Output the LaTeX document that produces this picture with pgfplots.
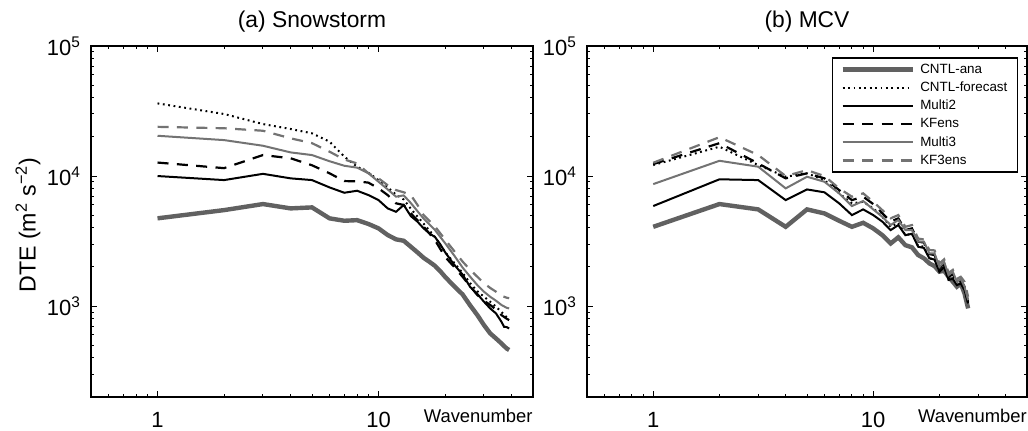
\documentclass[border=0pt]{standalone}
\usepackage{pgfplots}
\pgfplotsset{compat=1.18}
\usepackage{fontspec}
\setmainfont{Liberation Sans}
\definecolor{dgray}{gray}{0.38}
\definecolor{lgray}{gray}{0.45}

\pgfplotsset{
 mystyle/.style={
  scale only axis,
  xmin=0.5, xmax=50, ymin=200, ymax=100000,
  xtick={1,10}, xticklabels={1,10},
  minor xtick={0.5,0.6,0.7,0.8,0.9,2,3,4,5,6,7,8,9,20,30,40,50},
  ytick={1000,10000,100000},
  yticklabels={10\textsuperscript{3},10\textsuperscript{4},10\textsuperscript{5}},
  minor ytick={200,300,400,500,600,700,800,900,2000,3000,4000,5000,6000,7000,8000,9000,20000,30000,40000,50000,60000,70000,80000,90000},
  tick align=inside,
  major tick length=3pt, minor tick length=1.7pt,
  every tick/.style={black, line width=0.5pt},
  axis line style={line width=0.7pt},
  ticklabel style={font=\fontsize{11}{13}\selectfont},
  xticklabel style={anchor=base, yshift=-15pt},
  yticklabel style={xshift=-1.5pt},
  title style={font=\fontsize{11.4}{13}\selectfont, at={(0.5,1)}, anchor=base, yshift=3pt},
  xlabel={Wavenumber},
  xlabel style={font=\fontsize{9.2}{11}\selectfont, at={(axis description cs:0.876,0)}, anchor=base, yshift=-12.5pt},
  legend image code/.code={\draw[##1] (0pt,0pt) -- (35pt,0pt);},
 },
 ana/.style={dgray, line width=2.2pt},
 fc/.style={black, line width=1pt, dash pattern=on 0.9pt off 1.8pt},
 m2/.style={black, line width=1pt},
 kf/.style={black, line width=1.1pt, dash pattern=on 5.5pt off 4.2pt},
 m3/.style={lgray, line width=1pt},
 kf3/.style={lgray, line width=1.1pt, dash pattern=on 5.5pt off 4.2pt},
}

\begin{document}
\begin{tikzpicture}
\useasboundingbox (0,0) rectangle (514pt,215pt);
\begin{loglogaxis}[mystyle, at={(45.5pt,16.5pt)}, anchor=south west, width=221pt, height=175.5pt,
  title={(a) Snowstorm},
  ylabel={DTE (m\textsuperscript{2} s\textsuperscript{−2})},
  ylabel style={font=\fontsize{11.6}{13}\selectfont, at={(axis description cs:-0.1425,0.49)}, anchor=center}]
\addplot[ana] coordinates {(1,4730)(2,5470)(3,6090)(4,5640)(5,5740)(6,4730)(7,4530)(8,4580)(9,4280)(10,3960)(11,3520)(12,3260)(13,3180)(14,2860)(15,2590)(16,2350)(17,2190)(18,2040)(19,1860)(20,1680)(22,1420)(24,1230)(26,1010)(28,853)(30,714)(32,617)(34,564)(36,516)(38,472)(39,460)};
\addplot[fc] coordinates {(1,36200)(2,30000)(3,25100)(4,23000)(5,21300)(6,18400)(7,14100)(8,11800)(9,10600)(10,9300)(11,8200)(12,7200)(13,6600)(14,5600)(16,4300)(18,3400)(20,2600)(22,2150)(24,1800)(26,1500)(28,1300)(30,1180)(32,1080)(34,990)(36,900)(38,820)(39,800)};
\addplot[m2] coordinates {(1,10000)(2,9310)(3,10400)(4,9600)(5,9310)(6,8180)(7,7440)(8,7710)(9,7140)(10,6530)(11,5640)(12,5310)(13,5990)(14,4920)(15,4460)(16,3960)(17,3620)(18,3400)(19,3000)(20,2600)(22,2080)(24,1750)(26,1400)(28,1240)(30,1080)(32,960)(34,879)(36,757)(37,693)(38,690)(39,673)};
\addplot[kf] coordinates {(1,12700)(2,11500)(3,14500)(4,13700)(5,12100)(6,10500)(7,9150)(8,9100)(9,8900)(10,8040)(11,7140)(12,6170)(13,5990)(14,5170)(16,4080)(18,3220)(20,2390)(22,2000)(24,1680)(26,1420)(28,1215)(30,1100)(32,1020)(34,940)(36,853)(38,800)(39,780)};
\addplot[m3] coordinates {(1,20400)(2,18900)(3,17100)(4,15200)(5,14500)(6,13000)(7,12000)(8,11600)(9,10500)(10,9040)(11,7900)(12,6940)(13,7100)(14,6200)(16,4700)(18,3850)(20,3050)(22,2450)(24,1980)(26,1680)(28,1450)(30,1290)(32,1180)(34,1100)(36,1020)(38,970)(39,960)};
\addplot[kf3] coordinates {(1,23900)(2,23300)(3,22300)(4,19500)(5,17900)(6,15400)(7,13400)(8,12500)(9,10500)(10,9600)(11,8500)(12,7800)(13,7500)(14,7140)(15,6000)(16,5000)(18,4100)(20,3250)(22,2650)(24,2200)(26,1900)(28,1680)(30,1500)(32,1380)(34,1290)(36,1200)(38,1160)(39,1150)};
\end{loglogaxis}

\begin{loglogaxis}[mystyle, at={(293.5pt,16.5pt)}, anchor=south west, width=220pt, height=175.5pt,
  title={(b) MCV},
  legend style={at={(0.9805,0.9675)}, anchor=north east, font=\fontsize{6.7}{8}\selectfont,
    draw=black, line width=0.6pt, inner xsep=4pt, inner ysep=1.2pt, row sep=0pt,
    column sep=1.5pt,
    nodes={inner sep=1.2pt, text height=5.2pt, text depth=1.5pt}},
  legend cell align=left]
\addplot[ana] coordinates {(1,4070)(2,6090)(3,5540)(4,4070)(5,5540)(6,5160)(7,4530)(8,4070)(9,4370)(10,3960)(11,3510)(12,3030)(13,3380)(14,2940)(15,2830)(16,2470)(17,2330)(18,2130)(19,2030)(20,1840)(21,1870)(22,1680)(23,1540)(24,1410)(25,1490)(26,1250)(27,960)};
\addplot[fc] coordinates {(1,12150)(2,16800)(3,12150)(4,9880)(5,10500)(6,9310)(7,7360)(8,6170)(9,6340)(10,5650)(11,4860)(12,4070)(13,4370)(14,3510)(15,3600)(16,2900)(17,2870)(18,2330)(19,2290)(20,1840)(21,2000)(22,1600)(23,1680)(24,1490)(25,1540)(26,1370)(27,1050)};
\addplot[m2] coordinates {(1,5880)(2,9440)(3,9310)(4,6530)(5,7890)(6,7500)(7,6170)(8,5010)(9,5540)(10,5010)(11,4460)(12,3840)(13,4200)(14,3510)(15,3600)(16,2860)(17,2800)(18,2330)(19,2280)(20,1840)(21,2000)(22,1590)(23,1620)(24,1450)(25,1490)(26,1330)(27,1050)};
\addplot[kf] coordinates {(1,12360)(2,17900)(3,12500)(4,9600)(5,10500)(6,9600)(7,7800)(8,6530)(9,6940)(10,6090)(11,5170)(12,4460)(13,4730)(14,3840)(15,3960)(16,3130)(17,3080)(18,2510)(19,2470)(20,1950)(21,2130)(22,1680)(23,1760)(24,1520)(25,1590)(26,1410)(27,1080)};
\addplot[m3] coordinates {(1,8670)(2,13100)(3,11800)(4,8040)(5,9880)(6,9040)(7,7360)(8,5880)(9,6430)(10,5540)(11,4860)(12,4200)(13,4590)(14,3840)(15,3840)(16,3130)(17,3130)(18,2540)(19,2540)(20,2000)(21,2190)(22,1730)(23,1840)(24,1540)(25,1620)(26,1410)(27,1110)};
\addplot[kf3] coordinates {(1,12650)(2,19900)(3,14500)(4,10000)(5,11100)(6,10000)(7,8040)(8,6940)(9,7360)(10,6340)(11,5470)(12,4730)(13,5010)(14,4070)(15,4200)(16,3310)(17,3250)(18,2700)(19,2680)(20,2130)(21,2290)(22,1800)(23,1900)(24,1620)(25,1680)(26,1540)(27,1180)};
\legend{CNTL-ana,CNTL-forecast,Multi2,KFens,Multi3,KF3ens}
\end{loglogaxis}
\end{tikzpicture}
\end{document}
